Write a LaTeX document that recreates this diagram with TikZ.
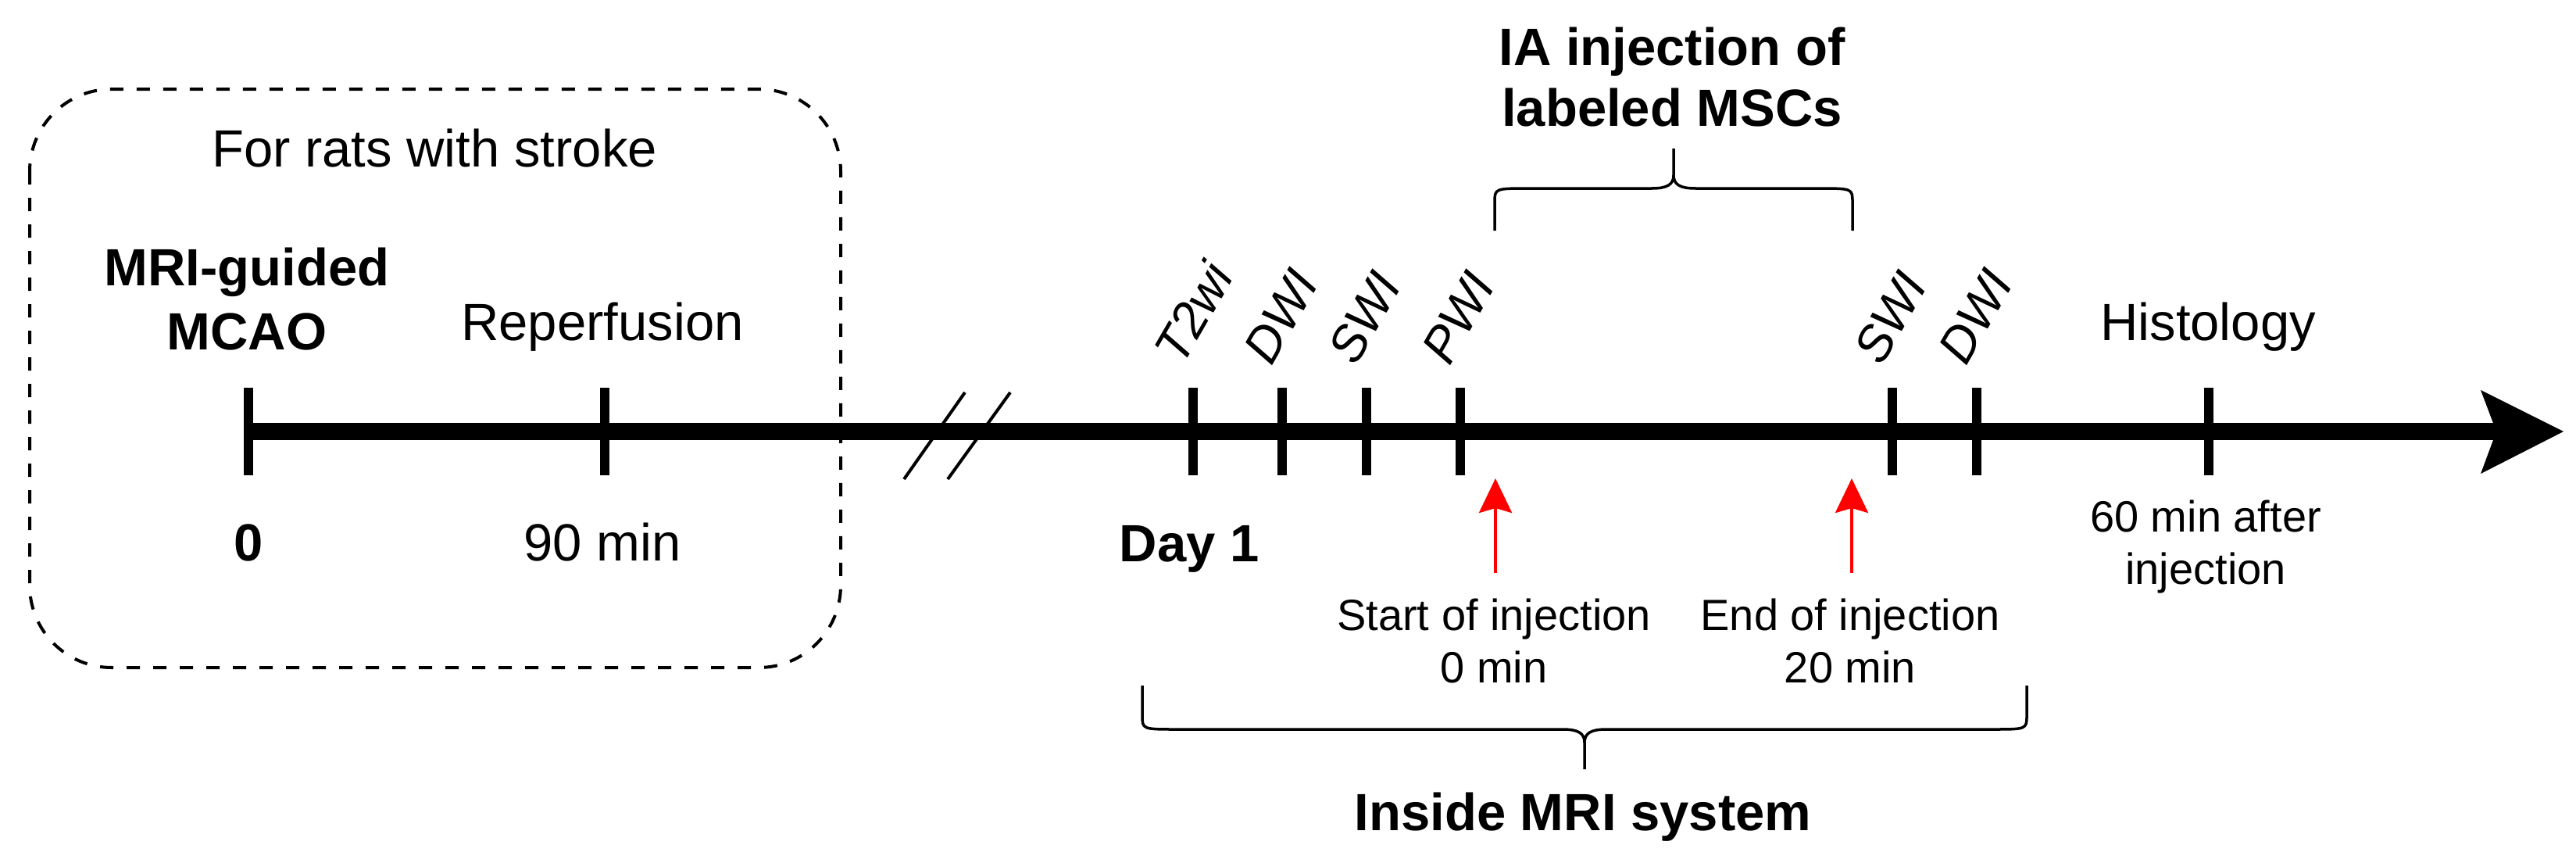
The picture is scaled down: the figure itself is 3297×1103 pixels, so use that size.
\documentclass[tikz,border=0pt]{standalone}
\usepackage{fontspec}
\setmainfont{Liberation Sans}
\usetikzlibrary{arrows.meta}
\begin{document}
\begin{tikzpicture}[x=1pt,y=-1pt,
  lbl/.style={inner sep=0pt, anchor=base, font=\fontsize{67}{80}\selectfont},
  blbl/.style={inner sep=0pt, anchor=base, font=\fontsize{67}{80}\selectfont\bfseries},
  slbl/.style={inner sep=0pt, anchor=base, font=\fontsize{56}{67}\selectfont},
  rlbl/.style={inner sep=0pt, anchor=base west, rotate=60, font=\fontsize{64}{77}\selectfont\itshape},
  tickmark/.style={line width=12pt},
  brace/.style={line width=3.5pt, line join=round},
  redarrow/.style={red, line width=4pt, -{Stealth[length=44pt,width=42pt,inset=6pt]}},
  breakmark/.style={line width=4pt},
  dashbox/.style={line width=4pt, dash pattern=on 17pt off 17pt, rounded corners=105pt},
]
\useasboundingbox[fill=white] (0,0) rectangle (3297,1103);

% dashed box
\coordinate (boxnw) at (38,114);
\coordinate (boxse) at (1076,854);
\draw[dashbox] (boxnw) rectangle (boxse);

% axis
\coordinate (axstart) at (318,552);
\coordinate (notch) at (3195,552);
\coordinate (tip) at (3281,552);
\coordinate (headtop) at (3175,499);
\coordinate (headbot) at (3175,606);
\draw[line width=22pt] (axstart) -- (notch);
\fill (tip) -- (headtop) -- (notch) -- (headbot) -- cycle;

% ticks
\foreach \n/\x in {t0/318, t90/774, tT2/1527, tDWIa/1641, tSWIa/1749, tPWI/1869, tSWIb/2422, tDWIb/2530, tHis/2827}{
  \coordinate (\n) at (\x,552);
  \draw[tickmark] (\n) ++(0,-56) -- ++(0,112);
}

% break marks
\coordinate (b1a) at (1157,613); \coordinate (b1b) at (1235,502);
\coordinate (b2a) at (1213,613); \coordinate (b2b) at (1293,502);
\draw[breakmark] (b1a) -- (b1b);
\draw[breakmark] (b2a) -- (b2b);

% rotated sequence labels
\node[rlbl] (lT2) at ([shift={(-14,-82)}]tT2) {T2wi};
\node[rlbl] (lDWIa) at ([shift={(-14,-82)}]tDWIa) {DWI};
\node[rlbl] (lSWIa) at ([shift={(-14,-82)}]tSWIa) {SWI};
\node[rlbl] (lPWI) at ([shift={(-14,-82)}]tPWI) {PWI};
\node[rlbl] (lSWIb) at ([shift={(-14,-82)}]tSWIb) {SWI};
\node[rlbl] (lDWIb) at ([shift={(-14,-82)}]tDWIb) {DWI};

% texts in the box
\node[lbl] (rats) at (556,213) {For rats with stroke};
\node[blbl] (mri1) at (316,365) {MRI-guided};
\node[blbl] (mri2) at (316,447) {MCAO};
\node[lbl] (reperf) at (771,435) {Reperfusion};
\node[blbl] (zero) at (318,717) {0};
\node[lbl] (ninety) at (771,717) {90 min};

% Day 1
\node[blbl] (day) at (1522,718) {Day 1};

% Histology
\node[lbl] (hist) at (2826,435) {Histology};
\node[slbl] (his1) at (2823,680) {60 min after};
\node[slbl] (his2) at (2823,747) {injection};

% red arrows
\coordinate (s1) at (1914,733); \coordinate (e1) at (1914,612);
\coordinate (s2) at (2370,733); \coordinate (e2) at (2370,612);
\draw[redarrow] (s1) -- (e1);
\draw[redarrow] (s2) -- (e2);
\node[slbl] (st1) at (1912,806) {Start of injection};
\node[slbl] (st2) at (1912,873) {0 min};
\node[slbl] (en1) at (2368,806) {End of injection};
\node[slbl] (en2) at (2368,873) {20 min};

% top brace
\draw[brace] (1913,295) -- (1913,259) .. controls (1913,241) and (1913,241) .. (1958,241)
  -- (2114,241) .. controls (2134,241) and (2142,236) .. (2142,224) -- (2142,190);
\draw[brace] (2371,295) -- (2371,259) .. controls (2371,241) and (2371,241) .. (2326,241)
  -- (2170,241) .. controls (2150,241) and (2142,236) .. (2142,224);
\node[blbl] (ia1) at (2140,83) {IA injection of};
\node[blbl] (ia2) at (2140,161) {labeled MSCs};

% bottom brace
\draw[brace] (1462,877) -- (1462,915) .. controls (1462,933) and (1462,933) .. (1507,933)
  -- (2000,933) .. controls (2020,933) and (2028,938) .. (2028,950) -- (2028,984);
\draw[brace] (2594,877) -- (2594,915) .. controls (2594,933) and (2594,933) .. (2549,933)
  -- (2056,933) .. controls (2036,933) and (2028,938) .. (2028,950);
\node[blbl] (inside) at (2026,1062) {Inside MRI system};
\end{tikzpicture}
\end{document}
